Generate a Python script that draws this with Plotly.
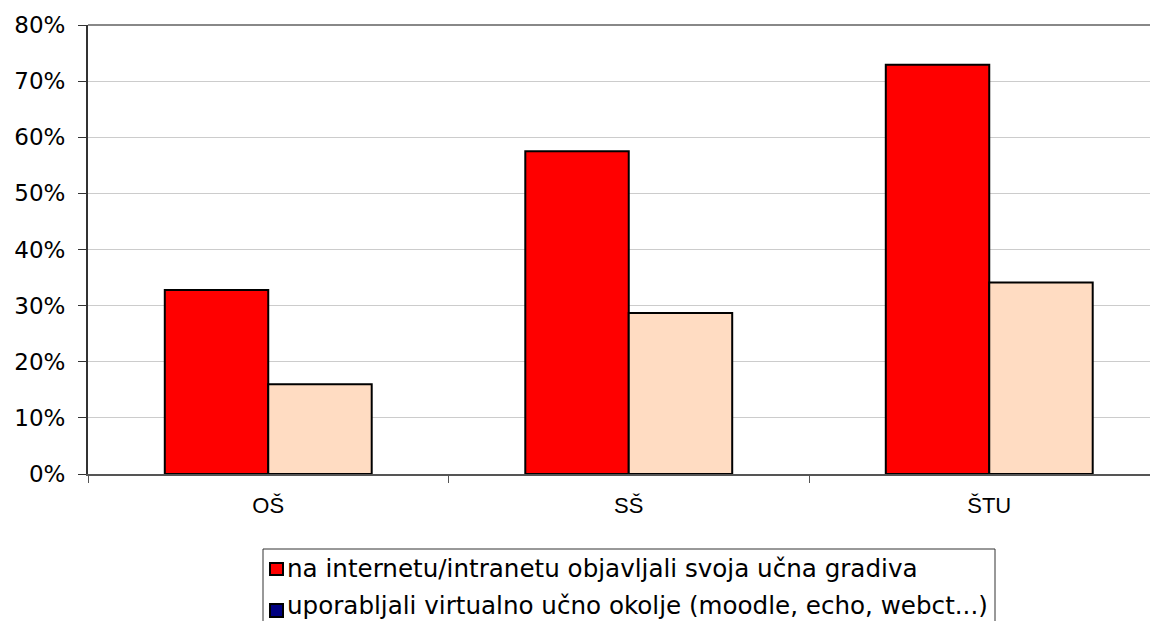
import plotly.graph_objects as go

# data
categories = ["OŠ", "SŠ", "ŠTU"]
published = [0.328, 0.575, 0.729]
virtual_env = [0.160, 0.287, 0.341]
legend_labels = [
    "na internetu/intranetu objavljali svoja učna gradiva",
    "uporabljali virtualno učno okolje (moodle, echo, webct...)",
]
legend_colors = ["#FF0000", "#000080"]
bar_colors = ["#FF0000", "#FFDCC2"]

# the page body has an 8px margin, so the figure is drawn 8px in from the corner
OFF = 8
W, H = 1158 - OFF, 621 - OFF
L, T = 88 - OFF, 25 - OFF
plot_bottom = 474 - OFF
B = H - plot_bottom
plot_w = W - L
plot_h = plot_bottom - T


def px(x):
    # reference pixel x -> paper
    return (x - OFF - L) / plot_w


def py(y):
    # reference pixel y -> paper
    return (plot_bottom - (y - OFF)) / plot_h


fig = go.Figure()
for vals, col in zip([published, virtual_env], bar_colors):
    fig.add_trace(go.Bar(
        x=categories, y=vals,
        marker=dict(color=col, line=dict(color="black", width=2)),
        showlegend=False,
    ))

cat_w = 360.5
fig.update_layout(
    width=W, height=H,
    margin=dict(l=L, r=0, t=T, b=B),
    paper_bgcolor="white", plot_bgcolor="white",
    barmode="group", bargap=0.426, bargroupgap=0,
    xaxis=dict(
        range=[-0.5, -0.5 + plot_w / cat_w],
        showgrid=False, showline=True, linecolor="#555", linewidth=2,
        ticks="outside", tickson="boundaries", ticklen=7, tickcolor="#555", tickwidth=1,
        tickfont=dict(family="Liberation Sans", size=22, color="black"),
        ticklabelstandoff=11,
    ),
    yaxis=dict(
        range=[0, 0.8], dtick=0.1, tickformat=".0%",
        showgrid=True, gridcolor="#cccccc", gridwidth=1,
        showline=True, linecolor="#333", linewidth=2,
        ticks="outside", ticklen=8, tickcolor="#333",
        tickfont=dict(family="DejaVu Sans", size=23, color="black"),
        ticklabelstandoff=8, zeroline=False,
    ),
)

# top border of the plot area
fig.add_shape(type="line", xref="paper", yref="paper", x0=0, x1=1, y0=1, y1=1,
              line=dict(color="#888", width=2))

# legend box (cut off at the bottom like in the reference)
fig.add_shape(type="rect", xref="paper", yref="paper",
              x0=px(263), x1=px(995), y0=py(549), y1=py(660),
              line=dict(color="#333", width=1), fillcolor="rgba(0,0,0,0)")
rows = [(563, 575, 568), (604, 617, 605)]
for (s0, s1, tc), lab, col in zip(rows, legend_labels, legend_colors):
    fig.add_shape(type="rect", xref="paper", yref="paper",
                  x0=px(270), x1=px(283), y0=py(s1), y1=py(s0),
                  line=dict(color="black", width=2), fillcolor=col)
    fig.add_annotation(text=lab, xref="paper", yref="paper", x=px(285), y=py(tc),
                       xanchor="left", yanchor="middle", showarrow=False,
                       font=dict(family="DejaVu Sans", size=24.6, color="black"))

fig.write_html("out.html")
